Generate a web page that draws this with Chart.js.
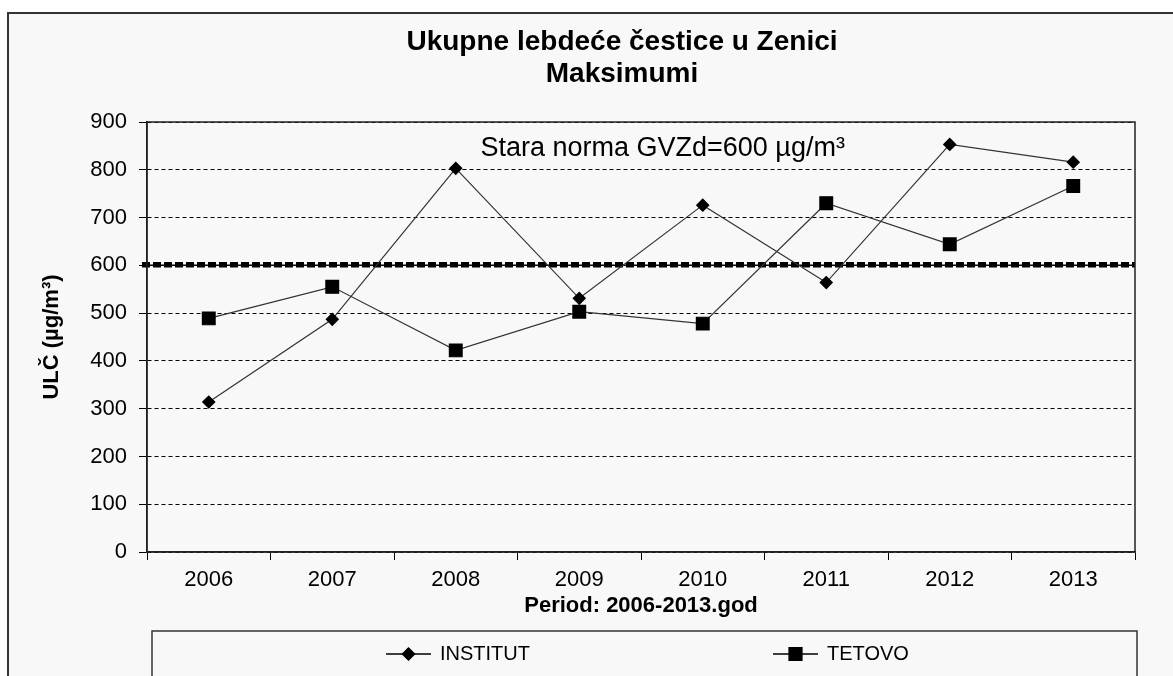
<!DOCTYPE html>
<html>
<head>
<meta charset="utf-8">
<script src="https://cdn.jsdelivr.net/npm/chart.js@4/dist/chart.umd.min.js"></script>
<style>
  body { margin: 0; background: #fff; }
  canvas { display: block; }
</style>
</head>
<body>
<canvas id="chart" width="1173" height="676"></canvas>
<script>
const years = ['2006', '2007', '2008', '2009', '2010', '2011', '2012', '2013'];
const institut = [314, 487, 803, 531, 726, 564, 853, 816];
const tetovo = [489, 555, 422, 503, 478, 730, 644, 766];
const normValue = 600;
const normLabel = 'Stara norma GVZd=600 µg/m³';
const titleLines = ['Ukupne lebdeće čestice u Zenici', 'Maksimumi'];
const yTitle = 'ULČ (µg/m³)';
const xTitle = 'Period: 2006-2013.god';

const FONT = 'Arial, "Liberation Sans", sans-serif';
const BG = '#f8f8f8';

// outer frame, grey fill and the two-line title
const background = {
    id: 'background',
    beforeDraw(chart) {
        const ctx = chart.ctx;
        ctx.save();
        ctx.fillStyle = BG;
        ctx.fillRect(8, 13, chart.width, chart.height);
        ctx.strokeStyle = '#333';
        ctx.lineWidth = 2;
        ctx.strokeRect(8, 13, chart.width + 10, chart.height + 10);

        ctx.fillStyle = '#000';
        ctx.textAlign = 'center';
        ctx.textBaseline = 'middle';
        ctx.font = 'bold 28px ' + FONT;
        titleLines.forEach((t, i) => ctx.fillText(t, 622, 42 + i * 32));
        ctx.restore();
    }
};

// thick dashed norm line + its label, frame round the plot
const normLine = {
    id: 'normLine',
    beforeDatasetsDraw(chart) {
        const {ctx, chartArea, scales} = chart;
        const y = scales.y.getPixelForValue(normValue);
        ctx.save();
        ctx.strokeStyle = '#000';
        ctx.lineWidth = 5.5;
        ctx.setLineDash([8, 3]);
        ctx.beginPath();
        ctx.moveTo(chartArea.left - 5, y - 0.5);
        ctx.lineTo(chartArea.right, y - 0.5);
        ctx.stroke();
        ctx.setLineDash([]);
        ctx.lineWidth = 1.5;
        ctx.beginPath();
        ctx.moveTo(chartArea.left - 5, y);
        ctx.lineTo(chartArea.right, y);
        ctx.stroke();

        ctx.fillStyle = '#000';
        ctx.font = '27px ' + FONT;
        ctx.textBaseline = 'middle';
        ctx.textAlign = 'left';
        ctx.fillText(normLabel, scales.x.getPixelForValue(2.2), scales.y.getPixelForValue(845));
        ctx.restore();
    },
    afterDatasetsDraw(chart) {
        const {ctx, chartArea} = chart;
        ctx.save();
        ctx.strokeStyle = '#222';
        ctx.lineWidth = 1.5;
        ctx.strokeRect(chartArea.left, chartArea.top, chartArea.right - chartArea.left, chartArea.bottom - chartArea.top);
        ctx.restore();
    }
};

// boxed legend at the bottom, line + marker samples
const boxLegend = {
    id: 'boxLegend',
    afterDraw(chart) {
        const ctx = chart.ctx;
        const left = 152, top = 631, right = 1137;
        ctx.save();
        ctx.strokeStyle = '#333';
        ctx.lineWidth = 1.5;
        ctx.strokeRect(left, top, right - left, 100);
        const starts = [left + 234, left + 621];
        const y = top + 23;
        chart.data.datasets.forEach((ds, i) => {
            const x0 = starts[i];
            ctx.strokeStyle = '#000';
            ctx.lineWidth = 1.5;
            ctx.beginPath();
            ctx.moveTo(x0, y);
            ctx.lineTo(x0 + 45, y);
            ctx.stroke();
            ctx.fillStyle = '#000';
            Chart.helpers.drawPoint(ctx, {
                pointStyle: ds.pointStyle,
                radius: ds.pointRadius,
                borderWidth: 1,
                rotation: 0
            }, x0 + 22.5, y);
            ctx.fill();
            ctx.font = '20px ' + FONT;
            ctx.textBaseline = 'middle';
            ctx.textAlign = 'left';
            ctx.fillText(ds.label, x0 + 54, y);
        });
        ctx.restore();
    }
};

new Chart(document.getElementById('chart'), {
    type: 'line',
    data: {
        labels: years,
        datasets: [{
            label: 'INSTITUT',
            data: institut,
            borderColor: '#333',
            borderWidth: 1.2,
            pointStyle: 'rectRot',
            pointRadius: 6,
            pointBackgroundColor: '#000',
            pointBorderColor: '#000',
            tension: 0,
            fill: false
        }, {
            label: 'TETOVO',
            data: tetovo,
            borderColor: '#333',
            borderWidth: 1.2,
            pointStyle: 'rect',
            pointRadius: 9,
            pointBackgroundColor: '#000',
            pointBorderColor: '#000',
            tension: 0,
            fill: false
        }]
    },
    options: {
        responsive: false,
        animation: false,
        layout: {
            padding: { left: 0, right: 38, top: 122, bottom: 0 }
        },
        plugins: {
            legend: { display: false },
            tooltip: { enabled: false },
            title: { display: false }
        },
        scales: {
            x: {
                offset: true,
                grid: {
                    offset: true,
                    drawOnChartArea: false,
                    drawTicks: true,
                    tickLength: 8,
                    color: '#000'
                },
                border: { display: true, color: '#222', width: 1.5 },
                ticks: {
                    color: '#000',
                    font: { family: FONT, size: 22 },
                    padding: 7,
                    maxRotation: 0
                },
                title: {
                    display: true,
                    text: xTitle,
                    color: '#000',
                    font: { family: FONT, size: 22, weight: 'bold' },
                    padding: { top: 0, bottom: 57 }
                },
                afterFit(scale) { scale.height = 124; }
            },
            y: {
                min: 0,
                max: 900,
                ticks: {
                    stepSize: 100,
                    color: '#000',
                    font: { family: FONT, size: 22 },
                    padding: 12
                },
                grid: {
                    color: '#000',
                    lineWidth: 1,
                    tickLength: 8,
                    tickBorderDash: [],
                    tickColor: '#000'
                },
                border: { display: true, color: '#222', width: 1.5, dash: [4, 3] },
                title: {
                    display: true,
                    text: yTitle,
                    color: '#000',
                    font: { family: FONT, size: 22, weight: 'bold' },
                    padding: { top: 39, bottom: 0 }
                },
                afterFit(scale) { scale.width = 147; }
            }
        }
    },
    plugins: [background, normLine, boxLegend]
});
</script>
</body>
</html>
